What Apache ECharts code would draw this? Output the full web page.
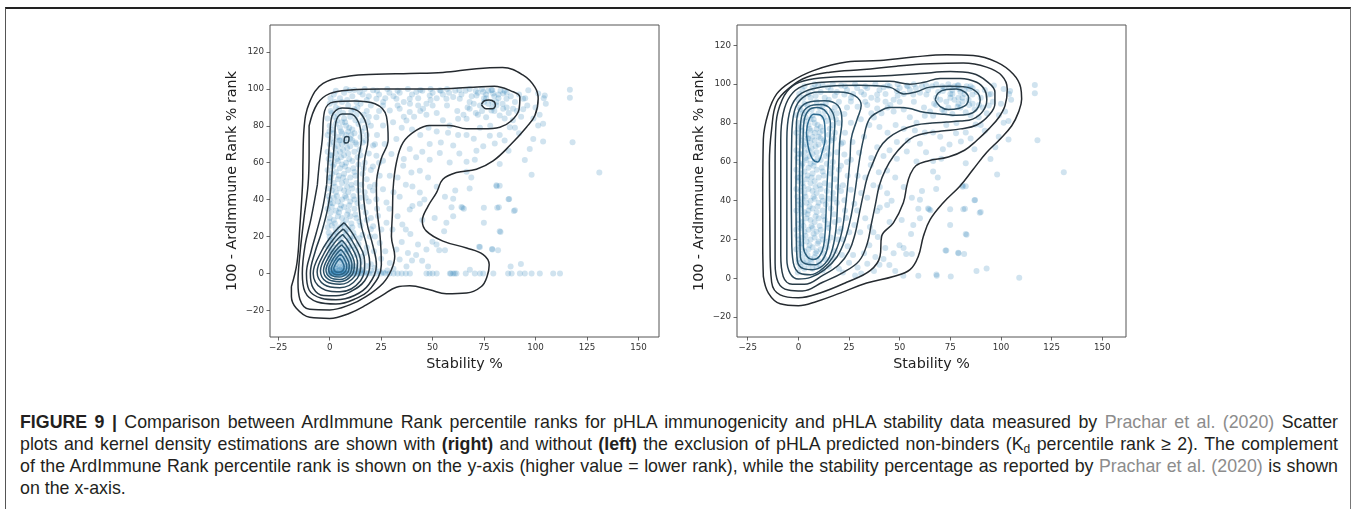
<!DOCTYPE html>
<html><head><meta charset="utf-8">
<script src="https://cdn.jsdelivr.net/npm/echarts@6/dist/echarts.min.js"></script>
<style>
html,body{margin:0;padding:0;background:#fff;}
#wrap{position:relative;width:1357px;height:509px;overflow:hidden;background:#fff;}
#chart{position:absolute;left:0;top:0;width:1357px;height:400px;}
#box{position:absolute;left:5px;top:7px;width:1346px;height:600px;border-top:2px solid #222;border-left:1px solid #555;border-right:1px solid #777;box-sizing:border-box;}
#cap{position:absolute;left:20px;top:411px;width:1318px;font-family:"Liberation Sans",Arial,sans-serif;font-size:17.8px;letter-spacing:0;line-height:22px;color:#231f20;}
.ln{white-space:nowrap;text-align:justify;text-align-last:justify;}
.ln.last{text-align-last:left;}
.g{color:#8c8c8c;}
sub{font-size:12px;line-height:0;vertical-align:-3px;}
</style></head>
<body>
<div id="wrap">
<div id="box"></div>
<div id="chart"></div>
<div id="cap">
<div class="ln"><b>FIGURE 9 |</b> Comparison between ArdImmune Rank percentile ranks for pHLA immunogenicity and pHLA stability data measured by <span class="g">Prachar et al. (2020)</span> Scatter</div>
<div class="ln">plots and kernel density estimations are shown with <b>(right)</b> and without <b>(left)</b> the exclusion of pHLA predicted non-binders (K<sub>d</sub> percentile rank ≥ 2). The complement</div>
<div class="ln">of the ArdImmune Rank percentile rank is shown on the y-axis (higher value = lower rank), while the stability percentage as reported by <span class="g">Prachar et al. (2020)</span> is shown</div>
<div class="ln last">on the x-axis.</div>
</div>
</div>
<script>
// ---------- tick labels ----------
const xTicks = [-25, 0, 25, 50, 75, 100, 125, 150];
const yTicks = [-20, 0, 20, 40, 60, 80, 100, 120];

// ---------- scatter data [stability %, 100 - rank] ----------
const sharedPoints = [
[116.7,99.6],[116.7,95.3],[118,71.1],[131,54.7],[103.7,81.1],[101.3,80.2],[98.9,72.9],[103.7,71.5],[97.2,67.5],[94.8,61.5],[98.1,53.5],[104.5,96.5],[101.3,97.5],[96.5,99.3],[94,94.7],[89.5,33.8],[86.9,40.2],[82.6,47.5],[81,47.8],[82.6,22.9],[81.8,12.5],[79,12.9],[72.6,14.4],[74.9,27.5],[74.9,35.6],[81.4,35.6],[68,46],[68.8,52],[66.5,55.1],[64,36],[65.2,35.1],[56,41.5],[56.7,27.5],[55.6,22.9],[49.9,17.1],[51.9,15.6],[53.2,12.5],[56,12.5],[47,12.9],[44.9,6.9],[47.8,3.8],[42.9,15.6],[39.2,21.3],[37,23.8],[35.3,26.5],[43.8,37.8],[43.8,43.8],[40.2,47.1],[34,41.5],[40.2,36.5],[38.9,34.7],[47.8,52],[48.6,61.6],[53.5,65.3],[48.6,70.2],[38.9,67.5],[35.7,58.4],[39.7,54.7],[43.8,55.6],[60,69.3],[57.5,76.2],[58.3,60.2],[66.5,60.5],[70.5,61.6],[71.3,66.5],[74.6,68.9],[80.2,70.5],[82.6,59.3],[86.9,66.5],[77.8,74.7],[82.6,75.1],[66.5,75.1],[62.4,75.1],[66.5,83.8],[62.4,83.8],[58.3,80.2],[68,89.3],[60,95.6],[56.7,94.7],[63.2,94.7],[71.3,96.5],[74.6,98.4],[78.6,99.3],[79.4,97.5],[84.3,97.5],[85.9,94.7],[84.3,89.3],[78.6,88.4],[76,84.7],[82.6,85.6],[89.1,89.3],[87.5,79.3],[53.5,99.3],[48.6,96.5],[42.1,98.4],[38.9,94.7],[45.4,89.3],[38.9,87.5],[37.3,82.9],[32.4,94.7],[34,89.3],[29.2,88.4],[25.9,91.1],[22.7,94.7],[21.1,99.3],[14.6,98.4],[9.7,99.3],[30.8,82],[25.9,80.2],[22.7,84.7],[32.4,72.9],[30,64.7],[25.9,61.1],[22.7,63.8],[21.1,69.3],[26.7,70.2],[24.3,52.9],[29.2,52.9],[25.9,45.6],[22.7,40.2],[27.6,38.4],[23.5,31.1],[27.6,27.5],[30.5,23.8],[25.1,23.8],[21.1,25.6],[32.4,12.9],[34,7.5],[37.3,3.8],[29.2,5.6],[24.3,16.5],
[60,40.5],[59.2,35.9],[64.5,35.6],[82.2,35.9],[87.2,40.4],[90,34.2],[83,22.5],[73,14.3],[78.9,13.2],[87.9,3.8],[92.9,5.1],[68.1,2],[81.1,47.2],
[2,97],[5,95],[7,98],[11,96],[13,93],[16,97],[18,94],[20,91],[24,97],[27,95],[29,98],[31,96],[34,98],[36,93],[40,97],[43,95],[45,99],[47,92],[50,98],[52,95],[55,97],[58,98],[61,99],[64,97],[66,99],[69,96],[72,98],[75,95],[76,97],[77,99],[80,96],[81,93],[83,99],[86,98],[88,96],[90,93],[73,91],[75,93],[77,92],[79,90],[81,91],[70,92],[67,90],[65,86],[72,86],[74,88],[80,88],[85,84],[87,87],[89,83],[93,85],[95,95],[92,97],[96,91],[100,90],[102,86],[99,84],[104,95],[105,92],[90,79],[92,76],[85,72],[78,80],[73,79],[70,73],[63,65],[55,83],[52,87],[50,91],[47,86],[43,91],[41,85],[36,85],[35,79],[40,78],[44,75],[48,79],[52,77],[54,71],[45,66],[42,63],[36,62],[33,52],[37,48],[31,44],[29,35],[33,31],[45,29],[51,30],[60,31],[61,45],[52,47],[46,40],[35,17],[38,11],[40,7],[42,10],[27,12],[25,8],[22,3],[28,1.5],[31,2.5],
[3,99],[8,100],[12,99.5],[17,100],[23,99],[28,100],[33,99],[38,100],[44,99.5],[49,100],[54,99],[57,100],[63,99.5],[68,100],[71,99],[74,100],[79,99.5],[82,97],[85,99],[19,96],[26,93],[33,91],[39,92],[44,88],[49,94],[57,91],[62,88],[68,93],[71,87],[76,95],[79,93],[82,95],[84,92],[86,90],[91,88],[94,89],
[0,92],[3,90],[6,93],[9,91],[12,89],[15,92],[18,88],[1,87],
[-1,84],[2,85],[4,86],[7,84],[10,85],[13,86],[16,83],[19,85],
[0,80],[3,81],[5,79],[8,80],[11,78],[14,81],[17,79],[20,80],[6,82],
[-1,75],[2,76],[4,74],[6,76],[8,75],[10,73],[12,76],[15,74],[18,75],[7,73],[9,77],
[0,70],[2,71],[4,69],[6,70],[8,71],[10,69],[13,70],[16,71],[5,72],[11,72],
[-1,66],[1,64],[3,65],[5,66],[7,64],[9,65],[12,66],[15,64],[19,65],
[0,60],[2,59],[4,61],[6,59],[8,60],[11,61],[14,59],[17,60],
[-1,56],[1,54],[3,55],[5,57],[7,54],[9,56],[12,55],[16,54],[20,56],
[0,50],[2,49],[4,51],[6,49],[8,50],[10,52],[13,49],[18,51],
[-1,46],[1,45],[3,44],[5,46],[7,45],[9,44],[11,46],[14,45],[17,44],
[0,40],[2,41],[4,39],[6,40],[8,41],[10,39],[12,40],[15,41],[19,39],
[-1,35],[1,36],[3,34],[5,35],[7,36],[9,34],[12,35],[16,36],
[0,30],[2,29],[4,31],[6,30],[8,29],[10,31],[13,30],[18,29],
[-1,25],[1,26],[3,24],[5,25],[7,26],[9,24],[11,25],[15,26],[20,24],
[0,20],[2,21],[4,19],[6,20],[8,21],[10,19],[12,20],[16,21],
[-1,15],[1,16],[3,14],[5,15],[7,16],[9,14],[11,15],[14,16],[18,14],
[0,10],[2,11],[4,9],[6,10],[8,11],[10,9],[13,10],[17,11],
[1,6],[3,5],[5,7],[7,5],[9,6],[12,4],[15,6],[20,5],
[0.5,88],[2.5,93],[4.5,89],[6.5,87],[8.5,94],[10.5,88],[13.5,90],[16.5,86],[1.5,78],[3.5,83],[5.5,77],[7.5,82],[9.5,79],[12.5,83],[15.5,77],[18.5,82],[0.5,73],[2.5,68],[4.5,72],[6.5,67],[8.5,68],[10.5,75],[12.5,71],[14.5,67],[17.5,72],[-0.5,62],[1.5,58],[3.5,62],[5.5,63],[7.5,58],[9.5,62],[11.5,57],[13.5,63],[16.5,57],[0.5,52],[2.5,47],[4.5,53],[6.5,52],[8.5,47],[10.5,48],[12.5,53],[15.5,48],[19.5,47],[-0.5,42],[1.5,38],[3.5,42],[5.5,37],[7.5,42],[9.5,37],[11.5,42],[13.5,38],[17.5,41],[0.5,33],[2.5,27],[4.5,33],[6.5,27],[8.5,32],[10.5,27],[12.5,32],[14.5,28],[17.5,33],[-0.5,22],[1.5,18],[3.5,22],[5.5,17],[7.5,23],[9.5,18],[11.5,22],[14.5,19],[19.5,20],[0.5,13],[2.5,8],[4.5,12],[6.5,8],[8.5,13],[10.5,7],[12.5,13],[15.5,9],[21.5,12],[23,35],[22,48],[21,58],[23,75],[24,88],[22,70],[21,45],[20,30],[22,20],[24,60],[-0.3,3],[0,8],[0.2,18],[-0.2,28],[0.1,38],[-0.4,52],[0.3,64],[-0.1,77],[0.4,95]
];
const leftOnlyPoints = [
[0,0],[1,0],[2,0],[3,0],[4,0],[5,0],[6,0],[7,0],[8,0],[9,0],[10,0],[11,0],[12,0],[13,0],[14,0],[15,0],[16,0],[18,0],[19,0],[21,0],[23,0],[25,0],[27,0],[29,0],[31,0],[33,0],[35,0],[37,0],[39,0],[47,0],[48.5,0],[50,0],[52,0],[58.4,0],[60,0],[61.6,0],[66.1,0],[70.5,0],[73,0],[74.6,0],[79.5,0],[86.7,0],[88.4,0],[92.4,0],[94.8,0],[98.1,0],[102.1,0],[108.6,0],[111.9,0],
[0.5,0],[1.5,0],[2.5,0],[3.5,0],[4.5,0],[5.5,0],[6.5,0],[7.5,0],[58.9,0],[60.8,0],
[1,2],[2,3],[3,1],[4,4],[5,2],[6,3],[7,1],[8,4],[9,2],[2,7],[4,8],[6,6],[8,8],[0,4],[10,3],[12,2],[14,3],[16,2],[18,4],[1,12],[3,11],[5,12],[7,13],[9,12],
[0,1],[1,1.5],[2,1],[3,2.5],[4,1.5],[5,3.5],[6,1.5],[7,2.5],[8,1.5],[9,4],[10,1.5],[11,4],[13,1],[15,1.5],[17,0.8],[20,1.5],[24,1],[26,0.5]
];
const rightOnlyPoints = [[51.8,1.4],[59.2,1.4],[68.3,1.4],[75.2,1],[109,0.3]];

// ---------- KDE contour lines, left panel (outer -> inner) ----------
const leftL1 = [[-18.6,-7.1],[-15.9,5.6],[-14.6,23.8],[-13.2,48],[-13,60],[-12.5,78],[-9.7,93],[-3.2,103],[9.7,107],[22.7,108],[38.9,108.4],[55,109],[71.3,111],[84,111.6],[94,107.5],[99.7,101],[101.3,94.7],[99.7,85.6],[95.6,79.3],[87.5,69.3],[79.4,61],[71.3,56.5],[61.6,54.7],[55,51],[51.9,43.8],[47.8,36.5],[45,28.4],[47,22.9],[55,17.5],[66.5,13.8],[74.6,10.2],[77.5,4.7],[76.5,-1.6],[73.7,-7.1],[66.5,-10.7],[56.7,-11.1],[48.6,-8.9],[38.9,-6.7],[32.4,-7.5],[25.9,-11.6],[17.8,-17.1],[9.7,-21.6],[0,-24.4],[-9.7,-23.8],[-16.2,-18.9],[-18.6,-12.5],[-18.6,-7.1]];
const leftL2 = [[-10,80],[-6,92],[0,97.5],[10,99.5],[25,100],[50,100],[70,101],[80,101.5],[88,99],[92.4,95.6],[92,89],[88,82.5],[82.7,79.3],[74.6,78.4],[66.5,78.4],[58.3,80.2],[48.6,80.2],[42,77.5],[35.7,71],[32.4,60],[30.8,45.6],[30.5,32.9],[30,20],[31.6,9.3],[30,2],[25.9,-5.3],[17.8,-12.5],[9.7,-17.1],[0,-19.8],[-9.7,-19.5],[-14.5,-14],[-15.4,-5],[-14.5,10],[-12.5,30],[-10.5,48],[-10,65],[-10,80]];
const leftL3 = [[-6,48],[-9,30],[-12,15],[-13.3,0],[-12,-10],[-6,-15.5],[3,-16.6],[12,-14],[20,-8],[25.1,4.7],[24.5,20],[23,35],[22.7,48],[25,62],[28.4,72.5],[27.6,85],[22,92],[12,93.5],[2,93],[-2.5,88],[-3.6,72.5],[-5,60],[-6,48]];
const leftL3b = [[73.7,91.5],[75,93.5],[77.5,94],[80,93],[80.5,91],[79,89.3],[76,89.3],[73.7,91.5]];
const leftL4 = [[-1.5,48],[-3.5,35],[-6.5,22],[-9,12],[-11.3,0],[-10,-9],[-4,-13.5],[3,-14.3],[12,-12],[19,-6],[22.7,4.7],[21,15],[18,28],[16.2,48],[17,62],[18.6,72.5],[17,83.4],[12,89],[6,89.7],[1,85],[0,72.5],[-0.8,60],[-1.5,48]];
const leftL5 = [[0.8,48],[-1,35],[-4,22],[-7,12],[-9.4,0],[-8,-8],[-3,-12],[3,-12.1],[10,-10],[17,-4],[19.5,5],[18,15],[15,28],[13.8,48],[14,62],[15.4,72.5],[14,82],[10,86.5],[6,86.5],[3,82],[2.4,72.5],[1.5,60],[0.8,48]];
const leftL6 = [[7,27.5],[12,20],[17,6],[15,-4],[5,-10],[-4,-8],[-8,0],[-4,12],[2,22],[7,27.5]];
const leftL6b = [[7,71],[7.2,73.5],[8.3,74.3],[9.4,73.5],[9.2,71.5],[8,70.7],[7,71]];
const leftL7 = [[6.6,24.1],[10.9,17.7],[15.1,5.8],[13.4,-2.7],[4.9,-7.8],[-2.7,-6.1],[-6.1,0.7],[-2.7,10.9],[2.4,19.4],[6.6,24.1]];
const leftL8 = [[6.3,21.1],[9.9,15.7],[13.5,5.6],[12.1,-1.6],[4.9,-5.9],[-1.6,-4.5],[-4.5,1.3],[-1.6,9.9],[2.7,17.1],[6.3,21.1]];
const leftL9 = [[6,18],[9,13.5],[12,5.1],[10.8,-0.9],[4.8,-4.5],[-0.6,-3.3],[-3,1.5],[-0.6,8.7],[3,14.7],[6,18]];
const leftL10 = [[5.8,15.5],[8.3,11.8],[10.8,4.8],[9.8,-0.3],[4.8,-3.3],[0.3,-2.3],[-1.8,1.8],[0.3,7.8],[3.3,12.8],[5.8,15.5]];
const leftL11 = [[5.5,13],[7.5,10],[9.5,4.4],[8.7,0.4],[4.7,-2],[1.1,-1.2],[-0.5,2],[1.1,6.8],[3.5,10.8],[5.5,13]];
const leftL12 = [[5.3,10.5],[6.8,8.3],[8.3,4.1],[7.7,1.1],[4.7,-0.8],[2,-0.2],[0.8,2.3],[2,5.9],[3.8,8.9],[5.3,10.5]];
const leftL13 = [[5,8.1],[6,6.6],[7,3.8],[6.6,1.8],[4.6,0.6],[2.8,1],[2,2.6],[2.8,5],[4,7],[5,8.1]];

// ---------- KDE contour lines, right panel (outer -> inner) ----------
const rightR1 = [[-17.3,1],[-17.6,16.6],[-17.6,42.4],[-17.3,71.7],[-14.8,85.5],[-10.7,95],[-4.1,101],[7.4,107],[23.8,111.4],[40.3,112.2],[56.7,114],[73.2,115.2],[86.3,114.8],[97.9,111.4],[106,105.3],[109.7,98.4],[110.2,92.4],[108.6,85.5],[105.3,78.6],[99.5,71.7],[92.9,64.8],[86.3,56.2],[79.8,47.6],[71.5,39],[65,30.3],[61.7,21.7],[59.2,11.4],[55.1,4.5],[46.9,1],[33.7,-2.4],[20.6,-7.6],[9,-11.9],[0,-14.1],[-9,-13.1],[-14.8,-7.6],[-17.3,1]];
const rightR2 = [[-14,16.6],[-14.3,59.7],[-13.2,76.9],[-10.7,90.7],[-4.1,98.4],[4.1,103.6],[15.6,106.2],[32.1,107.6],[48.5,109.3],[65,110.5],[81.4,110.9],[92.9,108.8],[100.3,104.5],[103.1,97.6],[102,89],[99,83],[94,77],[88,71],[82,66],[74,62.5],[64,60.5],[58,58],[55,53],[53.5,47.6],[51.8,39],[46.9,28.6],[41.1,21.7],[40.3,11.4],[35.4,4],[23.8,-2],[10.7,-7.5],[0,-10],[-9,-8.5],[-13.2,-2],[-14,16.6]];
const rightR3 = [[-11.5,25],[-11.5,60],[-11,80],[-8,92],[-3,99],[5,102.3],[20,103.8],[40,104.2],[60,105.5],[75,106.5],[86,105.5],[93,101.5],[97,96],[97,90],[94,84],[88,79],[80,77],[72,76],[64,75],[57,73],[52,69],[47,63],[43,56],[40,48],[38,38],[36,28],[34,18],[30,9],[22,3],[12,-2],[2,-6.5],[-5,-6],[-10,-2],[-11.5,8],[-11.5,25]];
const rightR4 = [[-8.7,30],[-8.7,71.5],[-7.5,85],[-4,94],[2,99],[12,101],[30,101.5],[45,101.5],[55,100],[62,101],[70,103],[80,103],[88,101],[92,97],[93,92],[91,86],[86,82],[80,81],[73,80.5],[66,80],[58,79],[50,76],[44,72],[40,67],[37,60],[34,52],[32,43],[30,33],[28,23],[25,14],[20,7],[12,1.5],[3,-3],[-3,-3],[-7.5,1],[-8.7,12],[-8.7,30]];
const rightR5 = [[-5.7,15],[-5.7,71.5],[-4.5,85],[-1,93],[5,97],[15,99],[30,99.5],[45,98.5],[52,95],[58,96],[65,98.5],[75,99],[83,98.5],[88,96],[89.7,92],[88,87],[84,84.5],[78,84],[72,84.5],[66,85],[60,86],[55,87.5],[50,88],[45,88],[40,86],[35,82],[32.1,71.7],[30,60],[28,45],[26,32],[23,20],[19,11],[13,4.5],[6,0.5],[0,-0.3],[-4,2.5],[-5.7,10],[-5.7,15]];
const rightR6 = [[-3.3,20],[-2.5,8],[1,2.5],[6,1.9],[12,5],[17,11],[21,22],[23,35],[24.5,50],[25.5,62],[26,71.5],[29,82],[31,89],[28,94],[20,96],[10,96],[2,93],[-2,86],[-3.3,71.5],[-3.5,45],[-3.3,20]];
const rightR6b = [[67.5,92],[69,95.5],[73,97.3],[78,97.5],[82,96],[84,93],[83,89.5],[79,87.5],[74,87],[70,88.5],[67.5,92]];
const rightR7 = [[-1,20],[-0.5,9],[2.5,5],[7,4.5],[12,6.5],[16,12.5],[18.5,25],[19.5,45],[20,60],[20.5,71.5],[21.5,81],[19.5,89],[13,91.5],[6,91],[0.5,87],[-1,78],[-1,71.5],[-1.2,45],[-1,20]];
const rightR8 = [[0.8,20],[1,11],[3.5,7.5],[7.5,7],[11.5,9],[14.2,15],[15.8,28],[16.5,45],[17,60],[17.5,71.5],[18,80],[16,87],[11,89.5],[5,88.5],[1.5,83],[0.8,71.5],[0.6,45],[0.8,20]];
const rightR9 = [[2.3,30],[2.5,16],[4.5,11],[7.5,9.7],[10.5,11.5],[12.5,17],[13.5,30],[14,45],[14.8,60],[15.5,71.5],[15.8,80],[13.5,86],[9,88],[5,86.5],[2.8,81],[2.3,71.5],[2.1,50],[2.3,30]];
const rightR10 = [[4,75],[5,81],[7.5,84.5],[11,84],[13,79],[13.2,72],[12,66],[9.5,60],[7,61.5],[5,67],[4,75]];

// ---------- styles ----------
const levelColors = ['#252a2f','#262d33','#273139','#283640','#283b47','#29404f','#294657','#2a4c60','#2a5269','#2b5872','#2b5e7c','#2c6486','#2c6a90'];
const pointColor = 'rgba(31,119,180,0.26)';

const leftLines = [[leftL1,0],[leftL2,1],[leftL3,2],[leftL3b,2],[leftL4,3],[leftL5,4],[leftL6,5],[leftL6b,5],[leftL7,6],[leftL8,7],[leftL9,8],[leftL10,9],[leftL11,10],[leftL12,11],[leftL13,12]];
const rightLines = [[rightR1,0],[rightR2,1],[rightR3,3],[rightR4,4],[rightR5,6],[rightR6,7],[rightR6b,7],[rightR7,8],[rightR8,9],[rightR9,10],[rightR10,12]];

function fmt(v){ return v < 0 ? '\u2212' + Math.abs(v) : String(v); }
const tickFont = {fontFamily:'DejaVu Sans', fontSize:8.7, color:'#333'};
const nameFont = {fontFamily:'DejaVu Sans', fontSize:14.3, color:'#222'};
function mkX(gi, min, max){
  return {type:'value', gridIndex:gi, min:min, max:max, name:'Stability %', nameLocation:'middle', nameGap:19,
    nameTextStyle:nameFont, axisLine:{show:false, onZero:false}, splitLine:{show:false},
    axisTick:{show:true, length:3.5, lineStyle:{color:'#444', width:0.8}, customValues:xTicks},
    axisLabel:Object.assign({customValues:xTicks, formatter:fmt, margin:6}, tickFont)};
}
function mkY(gi, min, max){
  return {type:'value', gridIndex:gi, min:min, max:max, name:'100 - ArdImmune Rank % rank', nameLocation:'middle', nameGap:31, nameRotate:90,
    nameTextStyle:nameFont, axisLine:{show:false, onZero:false}, splitLine:{show:false},
    axisTick:{show:true, length:3.5, lineStyle:{color:'#444', width:0.8}, customValues:yTicks},
    axisLabel:Object.assign({customValues:yTicks, formatter:fmt, margin:6}, tickFont)};
}
const series = [];
series.push({type:'scatter', xAxisIndex:0, yAxisIndex:0, data:sharedPoints.concat(leftOnlyPoints), symbolSize:6, itemStyle:{color:pointColor}, silent:true, z:2});
series.push({type:'scatter', xAxisIndex:1, yAxisIndex:1, data:sharedPoints.concat(rightOnlyPoints), symbolSize:6, itemStyle:{color:pointColor}, silent:true, z:2});
function addLines(list, idx){
  list.forEach(function(p){
    series.push({type:'line', xAxisIndex:idx, yAxisIndex:idx, data:p[0], showSymbol:false, smooth:0.4, silent:true, z:3,
      lineStyle:{color:levelColors[p[1]], width:1.5}});
  });
}
addLines(leftLines, 0);
addLines(rightLines, 1);

const chart = echarts.init(document.getElementById('chart'), null, {renderer:'canvas'});
chart.setOption({
  animation:false,
  grid:[
    {left:270, top:25, width:389, height:312, show:true, borderColor:'#555', borderWidth:1, backgroundColor:'transparent'},
    {left:737, top:25, width:389, height:312, show:true, borderColor:'#555', borderWidth:1, backgroundColor:'transparent'}
  ],
  xAxis:[mkX(0, -29, 160), mkX(1, -30.3, 161.7)],
  yAxis:[mkY(0, -34.5, 134.7), mkY(1, -30.2, 130.5)],
  series:series
});
</script>
</body></html>
